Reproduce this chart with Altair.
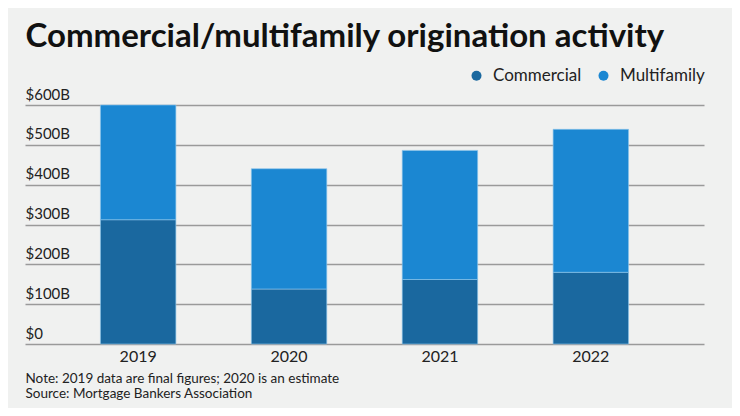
import altair as alt
import pandas as pd

years = ["2019", "2020", "2021", "2022"]
commercial = [312, 138, 162, 180]
multifamily = [288, 302, 324, 359]
types = ["Commercial", "Multifamily"]
colors = ["#1a689f", "#1b87d2"]
y_ticks = [0, 100, 200, 300, 400, 500, 600]
title_text = "Commercial/multifamily origination activity"
notes = ["Note: 2019 data are final figures; 2020 is an estimate",
         "Source: Mortgage Bankers Association"]

rows = []
for i, yr in enumerate(years):
    rows.append({"year": yr, "type": types[0], "value": commercial[i], "order": 0})
    rows.append({"year": yr, "type": types[1], "value": multifamily[i], "order": 1})
df = pd.DataFrame(rows)

FONT = "Lato"

chart = alt.Chart(df).mark_bar(stroke="#8cc4ea", strokeWidth=0.8, strokeOpacity=0.8).encode(
    x=alt.X("year:N", sort=years,
            scale=alt.Scale(paddingInner=0.5, paddingOuter=0.5),
            axis=alt.Axis(title=notes, titleX=0, titleY=38, titleAlign="left",
                          titleAnchor="start", titleBaseline="alphabetic",
                          titleFont=FONT, titleFontSize=13.5, titleFontWeight="normal",
                          titleColor="#222222", titleLineHeight=15,
                          labelAngle=0, labelFont=FONT, labelFontSize=16,
                          labelColor="#222222", labelPadding=4, ticks=False,
                          domain=False)),
    y=alt.Y("value:Q", stack="zero",
            scale=alt.Scale(domain=[0, 600], nice=False),
            axis=alt.Axis(values=y_ticks, title=title_text, titleAngle=0,
                          titleX=0, titleY=-59, titleAlign="left",
                          titleBaseline="alphabetic", titleFont=FONT,
                          titleFontSize=33, titleFontWeight="bold",
                          titleColor="#111111",
                          labelExpr="datum.value == 0 ? '$0' : '$' + datum.value + 'B'",
                          labelAlign="left", labelBaseline="bottom", labelPadding=0,
                          labelOffset=-3, labelFont=FONT, labelFontSize=15,
                          labelColor="#222222", ticks=False, domain=False,
                          grid=True, gridColor="#9a9a9a", gridWidth=1.5)),
    color=alt.Color("type:N", scale=alt.Scale(domain=types, range=colors),
                    legend=alt.Legend(title=None, orient="none", direction="horizontal",
                                      legendX=443, legendY=-38, symbolType="circle",
                                      symbolSize=100, symbolStrokeWidth=0,
                                      labelFont=FONT, labelFontSize=17,
                                      labelColor="#222222", labelOffset=8,
                                      columnPadding=13, padding=0)),
    order=alt.Order("order:Q", sort="ascending"),
).properties(
    width=679, height=239,
    background="#f0f1f0",
    padding={"left": 17, "top": 97, "right": 28, "bottom": 64},
    autosize=alt.AutoSizeParams(type="none"),
).configure_view(stroke=None)

chart.save("out.html", embed_options={"renderer": "svg", "actions": False})
